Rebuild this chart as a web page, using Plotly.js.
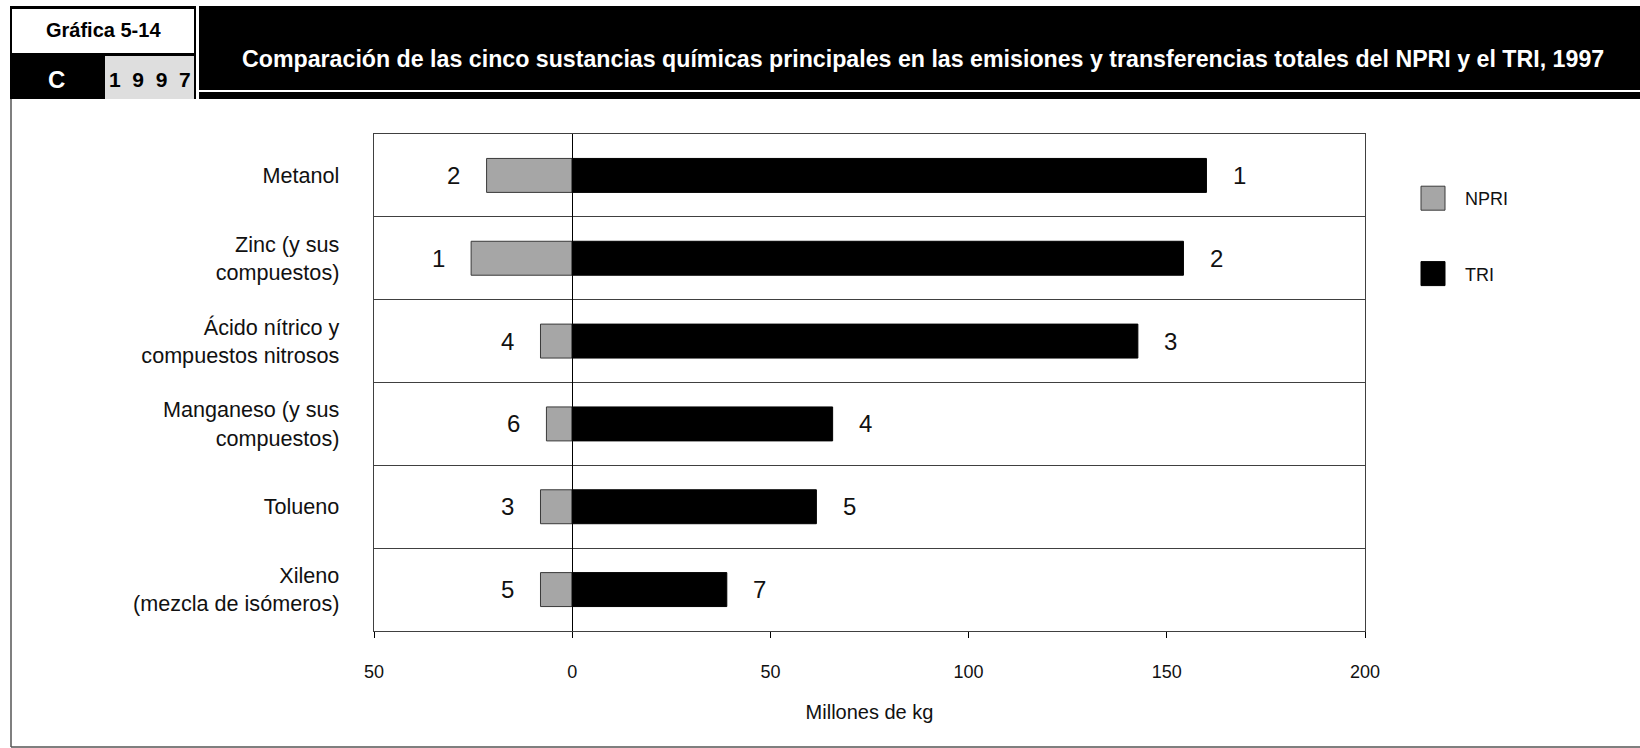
<!DOCTYPE html>
<html>
<head>
<meta charset="utf-8">
<script src="https://cdn.plot.ly/plotly-3.0.1.min.js"></script>
<style>
  html, body { margin: 0; padding: 0; background: #ffffff; }
  #chart { width: 1640px; height: 748px; }
</style>
</head>
<body>
<div id="chart"></div>
<script>
// ---- data ----
const categories = [
  'Metanol',
  'Zinc (y sus<br>compuestos)',
  'Ácido nítrico y<br>compuestos nitrosos',
  'Manganeso (y sus<br>compuestos)',
  'Tolueno',
  'Xileno<br>(mezcla de isómeros)'
];
const npriValues = [21.6, 25.5, 8.0, 6.5, 8.0, 8.0];   // millones de kg (drawn to the left)
const triValues  = [160.0, 154.2, 142.7, 65.7, 61.6, 39.0];
const npriRanks  = [2, 1, 4, 6, 3, 5];
const triRanks   = [1, 2, 3, 4, 5, 7];
const xTickVals  = [-50, 0, 50, 100, 150, 200];
const xTickText  = ['50', '0', '50', '100', '150', '200'];
const seriesNames = ['NPRI', 'TRI'];
const chartTitle = 'Comparación de las cinco sustancias químicas principales en las emisiones y transferencias totales del NPRI y el TRI, 1997';
const xAxisTitle = 'Millones de kg';
const headerLabel = 'Gráfica 5-14';
const headerLetter = 'C';
const headerYear = '1  9  9  7';

// ---- styling / geometry ----
const W = 1640, H = 748;
const M = { l: 374, r: 275, t: 134, b: 117 };
const PW = W - M.l - M.r, PH = H - M.t - M.b;
const px = x => (x - M.l) / PW;
const py = y => (H - M.b - y) / PH;

const SANS = '"Liberation Sans", Arial, sans-serif';

const data = [
  {
    type: 'bar', orientation: 'h', name: seriesNames[0], legendgroup: 'a',
    y: categories, x: npriValues.map(v => -v),
    marker: { color: '#a6a6a6', line: { color: '#3a3a3a', width: 1 } },
    hoverinfo: 'skip'
  },
  {
    type: 'bar', orientation: 'h', name: seriesNames[1], legendgroup: 'b',
    y: categories, x: triValues,
    marker: { color: '#000000', line: { color: '#000000', width: 1 } },
    hoverinfo: 'skip'
  }
];

const annotations = [];
categories.forEach((c, i) => {
  annotations.push({ x: -npriValues[i], y: c, xref: 'x', yref: 'y', text: String(npriRanks[i]),
    showarrow: false, xanchor: 'center', yanchor: 'middle', xshift: -33,
    font: { family: SANS, size: 24, color: '#111' } });
  annotations.push({ x: triValues[i], y: c, xref: 'x', yref: 'y', text: String(triRanks[i]),
    showarrow: false, xanchor: 'center', yanchor: 'middle', xshift: 33,
    font: { family: SANS, size: 24, color: '#111' } });
});
// header texts
annotations.push({ xref: 'paper', yref: 'paper', x: px(103), y: py(30), text: '<b>' + headerLabel + '</b>',
  showarrow: false, xanchor: 'center', yanchor: 'middle', font: { family: SANS, size: 20, color: '#000' } });
annotations.push({ xref: 'paper', yref: 'paper', x: px(56), y: py(79), text: '<b>' + headerLetter + '</b>',
  showarrow: false, xanchor: 'center', yanchor: 'middle', font: { family: SANS, size: 24, color: '#fff' } });
annotations.push({ xref: 'paper', yref: 'paper', x: px(150), y: py(79), text: '<b>' + headerYear + '</b>',
  showarrow: false, xanchor: 'center', yanchor: 'middle', font: { family: SANS, size: 21, color: '#000' } });
annotations.push({ xref: 'paper', yref: 'paper', x: px(240), y: py(59), text: '<b>' + chartTitle + '</b>',
  showarrow: false, xanchor: 'left', yanchor: 'middle', font: { family: SANS, size: 23.2, color: '#fff' } });

const shapes = [
  // outer frame
  { type: 'line', xref: 'paper', yref: 'paper', x0: px(11), x1: px(11), y0: py(99), y1: py(747), line: { color: '#555', width: 1.5 } },
  { type: 'line', xref: 'paper', yref: 'paper', x0: px(11), x1: px(1640), y0: py(747), y1: py(747), line: { color: '#555', width: 1.5 } },
  // black header band
  { type: 'rect', xref: 'paper', yref: 'paper', x0: px(10), x1: px(1640), y0: py(6), y1: py(99), fillcolor: '#000', line: { width: 0 }, layer: 'below' },
  // white label box
  { type: 'rect', xref: 'paper', yref: 'paper', x0: px(12), x1: px(194), y0: py(9), y1: py(53), fillcolor: '#fff', line: { width: 0 }, layer: 'below' },
  // grey year box
  { type: 'rect', xref: 'paper', yref: 'paper', x0: px(105), x1: px(194), y0: py(56), y1: py(99), fillcolor: '#dedede', line: { width: 0 }, layer: 'below' },
  // white separators
  { type: 'line', xref: 'paper', yref: 'paper', x0: px(197.5), x1: px(197.5), y0: py(6), y1: py(100), line: { color: '#fff', width: 3 }, layer: 'below' },
  { type: 'line', xref: 'paper', yref: 'paper', x0: px(199), x1: px(1640), y0: py(91), y1: py(91), line: { color: '#fff', width: 2 }, layer: 'below' }
];

const layout = {
  width: W, height: H,
  margin: M,
  paper_bgcolor: '#fff', plot_bgcolor: '#fff',
  barmode: 'relative', bargap: 0.59,
  showlegend: true,
  legend: {
    x: px(1401), y: py(180), xanchor: 'left', yanchor: 'top',
    font: { family: SANS, size: 18, color: '#111' },
    itemwidth: 54, tracegroupgap: 49, traceorder: 'grouped',
    bgcolor: 'rgba(0,0,0,0)', borderwidth: 0
  },
  xaxis: {
    range: [-50, 200], tickvals: xTickVals, ticktext: xTickText,
    showgrid: false, zeroline: true, zerolinecolor: '#000', zerolinewidth: 1.3,
    showline: true, mirror: true, linecolor: '#404040', linewidth: 1.3,
    ticks: 'outside', ticklen: 6, tickcolor: '#000', tickwidth: 1,
    ticklabelstandoff: 18,
    tickfont: { family: SANS, size: 18, color: '#111' },
    title: { text: xAxisTitle, standoff: 24, font: { family: SANS, size: 20, color: '#111' } },
    fixedrange: true
  },
  yaxis: {
    type: 'category', autorange: 'reversed',
    tickson: 'boundaries', showgrid: true, gridcolor: '#404040', gridwidth: 1.3,
    showline: true, mirror: true, linecolor: '#404040', linewidth: 1.3,
    ticks: '', ticklabelstandoff: 29,
    tickfont: { family: SANS, size: 21.6, color: '#111' },
    fixedrange: true
  },
  annotations: annotations,
  shapes: shapes
};

Plotly.newPlot('chart', data, layout, { staticPlot: true, displayModeBar: false }).then(function (gd) {
  gd.querySelectorAll('.legend .legendpoints path').forEach(function (p) {
    const t = p.getAttribute('transform') || '';
    p.setAttribute('transform', t + ' scale(2)');
    p.style.vectorEffect = 'non-scaling-stroke';
  });
});
</script>
</body>
</html>
